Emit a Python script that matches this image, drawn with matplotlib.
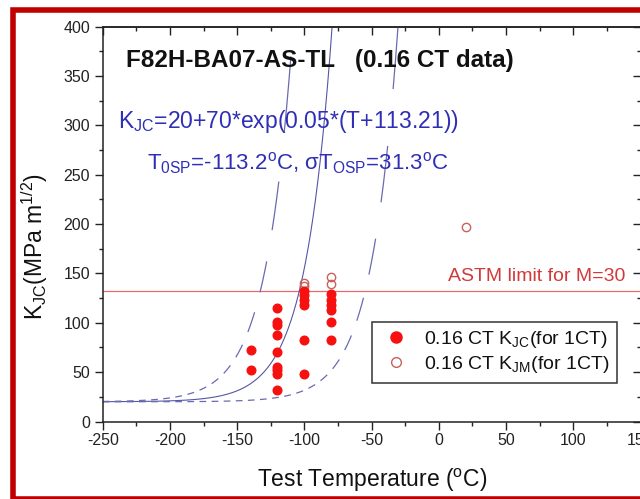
import numpy as np
import matplotlib
matplotlib.use('Agg')
import matplotlib.pyplot as plt
from matplotlib.patches import Rectangle
from matplotlib.lines import Line2D
from matplotlib.ticker import MultipleLocator

plt.rcParams['font.family'] = ['Liberation Sans', 'DejaVu Sans']
plt.rcParams['mathtext.default'] = 'regular'
plt.rcParams['axes.unicode_minus'] = False

# ---------------- data ----------------
kjc_temp = [-140, -140,
            -120, -120, -120, -120, -120, -120, -120, -120, -120,
            -100, -100, -100, -100, -100, -100,
            -80, -80, -80, -80, -80, -80]
kjc_val = [72.5, 52,
           115, 101, 97.5, 88, 70.5, 55.5, 52, 48.5, 31.5,
           132, 128, 123, 118, 83, 48.5,
           129, 123, 118, 113, 101, 83]

kjm_temp = [-100, -100, -80, -80, 20]
kjm_val = [140.5, 137.5, 146, 139.5, 197.5]

# master curve K = KMIN + KSCALE*exp(BETA*(T - T0))
KMIN, KSCALE, BETA = 20, 70, 0.05
T0_median = -113.21
T0_upper = -142.2
T0_lower = -64.2
astm_limit = 132.5

xticks = [-250, -200, -150, -100, -50, 0, 50, 100, 150]
yticks = [0, 50, 100, 150, 200, 250, 300, 350, 400]

# ---------------- figure ----------------
W, H = 640, 499
fig = plt.figure(figsize=(W / 100, H / 100), dpi=100)
axl, axr, axt, axb = 102.7, 640.5, 26.7, 421.5
ax = fig.add_axes([axl / W, 1 - axb / H, (axr - axl) / W, (axb - axt) / H])
ax.set_xlim(xticks[0], xticks[-1])
ax.set_ylim(yticks[0], yticks[-1])

T = np.arange(-250, 0, 0.02)


def curve(t0):
    return KMIN + KSCALE * np.exp(BETA * (T - t0))


line_col = '#5656a6'
ax.plot(T, curve(T0_median), color=line_col, lw=0.8, zorder=2)
DASH_PERIOD, DASH_ON = 9.0, 5.0
mask = ((T - T[0]) % DASH_PERIOD) < DASH_ON
for t0 in (T0_upper, T0_lower):
    k = np.where(mask, curve(t0), np.nan)
    ax.plot(T, k, color='#6a6ab0', lw=0.9, zorder=2, solid_capstyle='butt')

ax.axhline(astm_limit, color='#e86a6a', lw=0.9, zorder=1)

ax.plot(kjc_temp, kjc_val, 'o', ms=6.2, color='#f61010', mec='#f61010', zorder=4)
ax.plot(kjm_temp, kjm_val, 'o', ms=6.0, mfc='none', mec='#c8605c', mew=1.0, zorder=3)

# texts
ax.text(0.0439, 0.8975, 'F82H-BA07-AS-TL   (0.16 CT data)', transform=ax.transAxes,
        fontsize=17.5, fontweight='bold', color='#111111', ha='left', va='baseline')
blue = '#2f2fb5'
ax.text(0.0291, 0.7428, 'K$_{JC}$=20+70*exp(0.05*(T+113.21))', transform=ax.transAxes,
        fontsize=16.5, color=blue, ha='left', va='baseline')
ax.text(0.0815, 0.6373, 'T$_{0SP}$=-113.2$^{o}$C, σT$_{OSP}$=31.3$^{o}$C', transform=ax.transAxes,
        fontsize=16, color=blue, ha='left', va='baseline')
ax.text(0.9723, 0.3547, 'ASTM limit for M=30', transform=ax.transAxes,
        fontsize=14, color='#d23a3a', ha='right', va='baseline')

# axes styling
spine_col = '#222222'
for s in ax.spines.values():
    s.set_color(spine_col)
    s.set_linewidth(1.1)
ax.set_xticks(xticks)
ax.set_yticks(yticks)
ax.xaxis.set_minor_locator(MultipleLocator(25))
ax.yaxis.set_minor_locator(MultipleLocator(25))
ax.tick_params(which='both', direction='out', colors=spine_col, labelsize=11.5,
               labelcolor='#222222', top=False, right=False)
ax.tick_params(which='major', length=5.5, width=1.0)
ax.tick_params(which='minor', length=3.0, width=1.0)
ax.tick_params(axis='x', pad=2.5)

secx = ax.secondary_xaxis('top')
secx.set_xticks(xticks)
secx.xaxis.set_minor_locator(MultipleLocator(25))
secx.tick_params(which='both', direction='in', labeltop=False, colors=spine_col)
secx.tick_params(which='major', length=5.5, width=1.0)
secx.tick_params(which='minor', length=3.0, width=1.0)
secx.spines['top'].set_linewidth(1.1)
secx.spines['top'].set_color(spine_col)

secy = ax.secondary_yaxis('right')
secy.set_yticks(yticks)
secy.yaxis.set_minor_locator(MultipleLocator(25))
secy.tick_params(which='both', direction='in', labelright=False, colors=spine_col)
secy.tick_params(which='major', length=5.5, width=1.0)
secy.tick_params(which='minor', length=3.0, width=1.0)

ax.set_xlabel('Test Temperature ($^{o}$C)', fontsize=16.5, color='#111111')
ax.xaxis.set_label_coords(0.5, (axb - 480) / (axb - axt))
ax.xaxis.label.set_va('center')
ax.set_ylabel('K$_{JC}$(MPa m$^{1/2}$)', fontsize=16.5, color='#111111')
ax.yaxis.set_label_coords((35 - axl) / (axr - axl), (axb - 246) / (axb - axt))
ax.yaxis.label.set_va('center')

# legend
handles = [Line2D([], [], ls='none', marker='o', ms=8, color='#f61010'),
           Line2D([], [], ls='none', marker='o', ms=7, mfc='none', mec='#c8605c', mew=1.0)]
labels = ['0.16 CT K$_{JC}$(for 1CT)', '0.16 CT K$_{JM}$(for 1CT)']
leg = ax.legend(handles, labels, loc='upper left',
                bbox_to_anchor=((372 - axl) / (axr - axl), (axb - 321.5) / (axb - axt)),
                borderaxespad=0, fontsize=14, frameon=True, fancybox=False,
                edgecolor='#333333', framealpha=1, borderpad=0.4, handlelength=1.7,
                handletextpad=0.55, labelspacing=0.2)
leg.get_frame().set_linewidth(1.1)
for t in leg.get_texts():
    t.set_color('#111111')

# red outer frame
frame = Rectangle((13 / W, 1 - 498.5 / H), (660 - 13) / W, (498.5 - 10) / H,
                  transform=fig.transFigure, fill=False, edgecolor='#c00000',
                  linewidth=4.0, joinstyle='miter', zorder=10)
fig.patches.append(frame)

fig.savefig('out.png', dpi=100)
